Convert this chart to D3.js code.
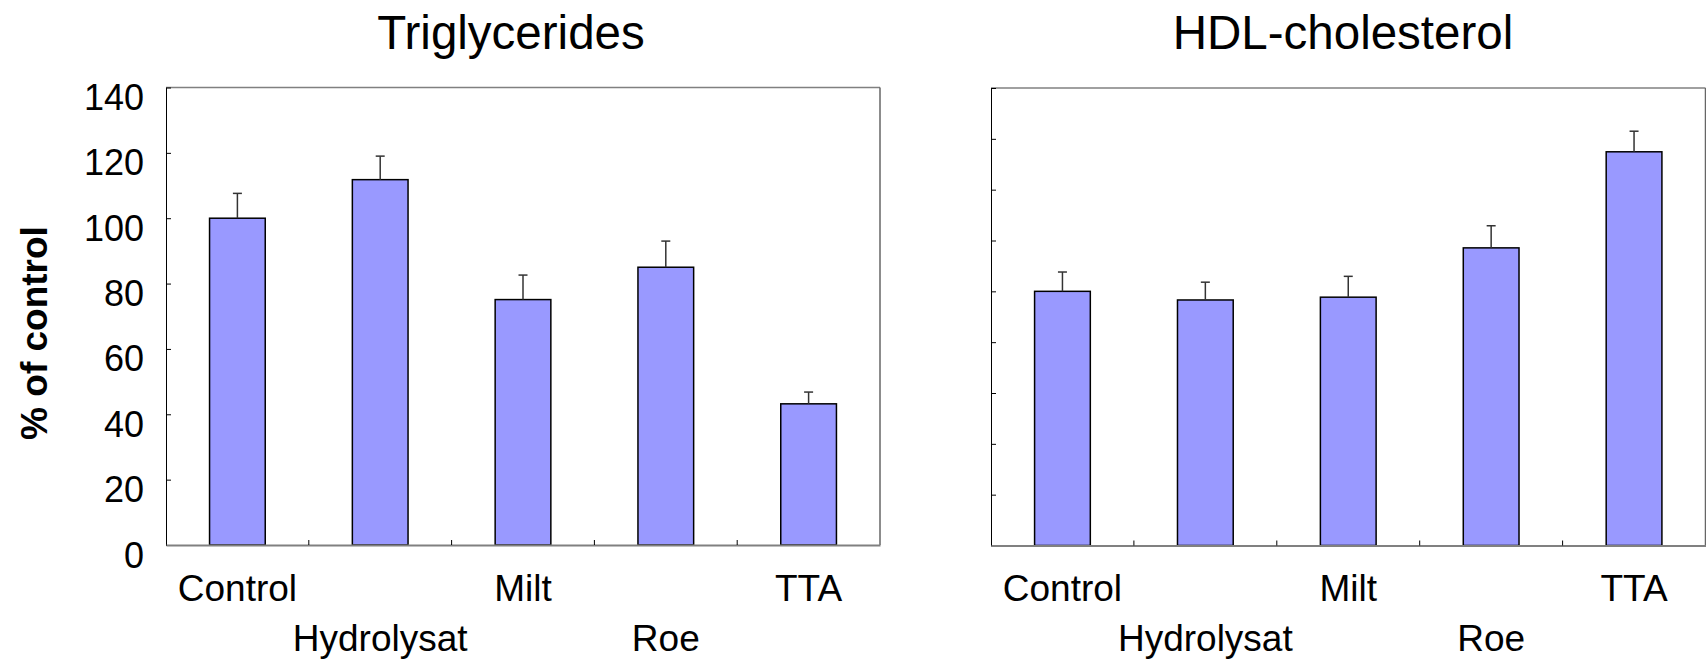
<!DOCTYPE html>
<html>
<head>
<meta charset="utf-8">
<script src="https://cdn.jsdelivr.net/npm/d3@7"></script>
<style>
  html, body { margin: 0; padding: 0; background: #fff; }
  svg { display: block; font-family: Arial, "Liberation Sans", sans-serif; }
</style>
</head>
<body>
<svg id="chart" width="1706" height="661"></svg>
<script>
const categories = ["Control", "Hydrolysat", "Milt", "Roe", "TTA"];
const tgValues = [100, 111.8, 75.1, 85, 43.2];
const tgErrors = [7.6, 7.2, 7.5, 8, 3.6];
const hdlValues = [100, 96.6, 97.7, 117.1, 154.9];
const hdlErrors = [7.6, 7, 8.2, 8.7, 8.1];
const tgTicks = [0, 20, 40, 60, 80, 100, 120, 140];
const hdlTicks = [0, 20, 40, 60, 80, 100, 120, 140, 160, 180];
const titles = ["Triglycerides", "HDL-cholesterol"];
const yLabel = "% of control";

const svg = d3.select("#chart");

function panel(opts) {
  const { x0, x1, y0, y1, values, errors, ticks, title, showLabels, titleX } = opts;
  const g = svg.append("g");
  const x = d3.scaleBand().domain(categories).range([x0, x1]).paddingInner(0.61).paddingOuter(0.305);
  const y = d3.scaleLinear().domain([0, d3.max(ticks)]).range([y0, y1]);

  // frame top & right
  g.append("line").attr("x1", x0).attr("x2", x1).attr("y1", y1).attr("y2", y1)
    .attr("stroke", "#808080").attr("stroke-width", 1.5);
  g.append("line").attr("x1", x1).attr("x2", x1).attr("y1", y1).attr("y2", y0)
    .attr("stroke", "#666").attr("stroke-width", 1.5);

  // bars
  g.selectAll("rect.bar").data(categories).join("rect")
    .attr("class", "bar")
    .attr("x", d => x(d))
    .attr("width", x.bandwidth())
    .attr("y", (d, i) => y(values[i]))
    .attr("height", (d, i) => y(0) - y(values[i]))
    .attr("fill", "#9999FF")
    .attr("stroke", "#000")
    .attr("stroke-width", 1.5);

  // error bars (upper only)
  categories.forEach((c, i) => {
    const cx = x(c) + x.bandwidth() / 2;
    g.append("line").attr("x1", cx).attr("x2", cx)
      .attr("y1", y(values[i])).attr("y2", y(values[i] + errors[i]))
      .attr("stroke", "#333").attr("stroke-width", 1.5);
    g.append("line").attr("x1", cx - 4.5).attr("x2", cx + 4.5)
      .attr("y1", y(values[i] + errors[i])).attr("y2", y(values[i] + errors[i]))
      .attr("stroke", "#333").attr("stroke-width", 1.5);
  });

  // y axis (ticks inside)
  const ya = g.append("g").attr("transform", `translate(${x0},0)`)
    .call(d3.axisRight(y).tickValues(ticks).tickSize(5).tickSizeOuter(0).tickFormat(""));
  ya.select(".domain").attr("stroke", "#000").attr("stroke-width", 1);
  ya.selectAll(".tick line").attr("stroke", "#000").attr("stroke-width", 1);

  if (showLabels) {
    g.selectAll("text.ytick").data(ticks).join("text")
      .attr("class", "ytick")
      .attr("x", x0 - 22)
      .attr("y", d => y(d) + 13)
      .attr("text-anchor", "end")
      .attr("dominant-baseline", "middle")
      .attr("font-size", 36)
      .text(d => d);
  }

  // x axis
  const boundaries = categories.slice(1).map(c => x(c) - x.step() * x.paddingInner() / 2);
  const xa = g.append("g").attr("transform", `translate(0,${y0})`)
    .call(d3.axisBottom(x).tickValues([]).tickSizeOuter(0));
  xa.select(".domain").attr("stroke", "#808080").attr("stroke-width", 2);
  g.selectAll("line.xtick").data(boundaries).join("line")
    .attr("class", "xtick")
    .attr("x1", d => d).attr("x2", d => d)
    .attr("y1", y0).attr("y2", y0 - 5)
    .attr("stroke", "#000").attr("stroke-width", 1);

  // category labels (staggered)
  g.selectAll("text.cat").data(categories).join("text")
    .attr("class", "cat")
    .attr("x", d => x(d) + x.bandwidth() / 2)
    .attr("y", (d, i) => i % 2 === 0 ? 601 : 651)
    .attr("text-anchor", "middle")
    .attr("font-size", 37)
    .text(d => d);

  // title
  g.append("text")
    .attr("x", titleX)
    .attr("y", 49)
    .attr("text-anchor", "middle")
    .attr("font-size", 47.5)
    .text(title);
}

panel({ x0: 166, x1: 880, y0: 545, y1: 87.5, values: tgValues, errors: tgErrors,
        ticks: tgTicks, title: titles[0], showLabels: true, titleX: 511 });
panel({ x0: 991, x1: 1705.5, y0: 545.5, y1: 88, values: hdlValues, errors: hdlErrors,
        ticks: hdlTicks, title: titles[1], showLabels: false, titleX: 1343 });

svg.append("text")
  .attr("transform", "translate(47,333) rotate(-90)")
  .attr("text-anchor", "middle")
  .attr("font-size", 37)
  .attr("font-weight", "bold")
  .text(yLabel);
</script>
</body>
</html>
